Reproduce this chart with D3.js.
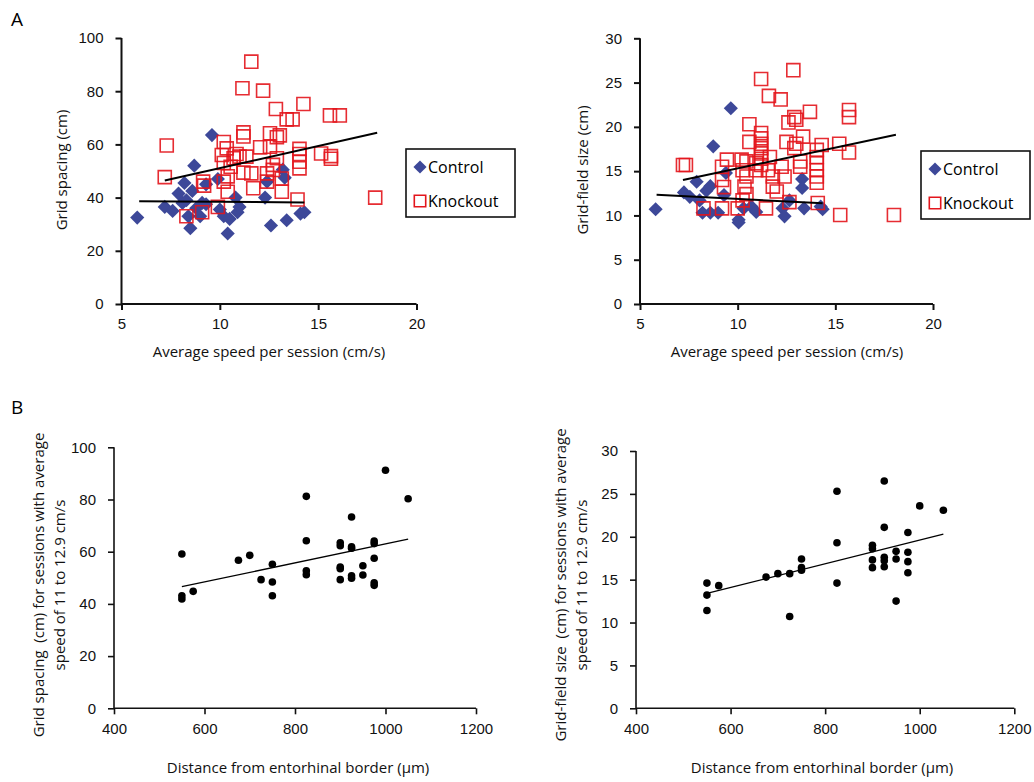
<!DOCTYPE html>
<html>
<head>
<meta charset="utf-8">
<script src="https://cdn.jsdelivr.net/npm/d3@7"></script>
<style>
  body { margin: 0; background: #fff; }
  svg { display: block; font-family: "Open Sans", "Noto Sans", sans-serif; }
  .tick text { font-size: 15px; fill: #111; }
  .axis path, .axis line { stroke: #111; }
</style>
</head>
<body>
<svg id="fig" width="1034" height="782"></svg>
<script>
// Panel A, left: average running speed (cm/s) vs grid spacing (cm)
const controlSpacing = [
  [5.8,32.5],[7.2,36.5],[7.6,35],[7.9,41.5],[8.1,38],[8.2,45.5],[8.3,39],[8.4,33],[8.5,28.5],
  [8.6,42.5],[8.7,52],[8.8,36],[9.0,33],[9.1,38],[9.3,45],[9.3,37.5],[9.6,63.5],[9.9,47],
  [10.0,35.5],[10.2,33],[10.4,26.5],[10.5,32],[10.8,40],[10.9,34.5],[11.0,36.5],[12.3,40],
  [12.4,46],[12.6,29.5],[13.2,50.5],[13.3,47.5],[13.4,31.5],[14.1,34],[14.3,34.5]
];
const knockoutSpacing = [
  [7.3,59.6],[7.2,47.7],[8.3,33],[9.1,34.5],[9.15,46],[9.2,44.5],[9.9,36.5],[10.1,56],[10.2,60.9],
  [10.2,46],[10.2,53],[10.35,58.5],[10.4,42.2],[10.4,48],[10.55,51.6],[10.7,54.8],[10.85,56.4],
  [11.0,55.4],[11.15,81.1],[11.2,64.5],[11.2,63],[11.2,49.4],[11.35,55.4],[11.6,91.1],[11.6,49.1],
  [11.7,43.5],[12.05,58.9],[12.2,80.2],[12.4,46],[12.4,49.1],[12.55,64.2],[12.55,59.1],[12.7,50.4],
  [12.7,52.3],[12.85,73.3],[12.9,62.7],[12.9,54.8],[13.05,63.4],[13.15,47.2],[13.15,42.2],
  [13.4,69.4],[13.7,69.4],[13.95,39.3],[14.05,58.3],[14.05,56.4],[14.05,53.5],[14.05,51],
  [14.25,75.2],[15.15,56.6],[15.6,70.9],[15.65,55.6],[15.65,54.6],[16.1,70.9],[17.9,40]
];
const controlSpacingFit = [[5.9,38.6],[14.3,38.2]];
const knockoutSpacingFit = [[7.2,46.4],[18.0,64.4]];

// Panel A, right: average running speed (cm/s) vs grid-field size (cm)
const controlField = [
  [5.8,10.7],[7.25,12.6],[7.55,12.1],[7.9,13.8],[8.05,11.7],[8.2,10.3],[8.4,12.8],[8.6,10.3],
  [8.6,13.3],[8.75,17.8],[9.0,10.3],[9.3,12.3],[9.4,14.8],[9.65,22.1],[10.05,9.2],[10.05,9.5],
  [10.3,10.8],[10.7,11.0],[10.95,10.4],[12.3,10.8],[12.4,9.9],[12.65,11.7],[13.3,14.1],[13.3,13.1],
  [13.4,10.8],[14.25,11.0],[14.35,10.7]
];
const knockoutField = [
  [7.2,15.7],[7.35,15.7],[8.25,10.8],[9.2,15.5],[9.2,14.0],[9.3,13.2],[9.2,10.8],[9.45,16.3],
  [10.0,10.8],[10.2,16.3],[10.25,15.1],[10.25,11.7],[10.35,13.25],[10.45,16.1],[10.45,14.4],
  [10.45,12.4],[10.6,20.3],[10.6,18.3],[10.95,15.9],[10.95,15.1],[11.2,25.4],[11.2,19.3],
  [11.2,18.7],[11.2,18.1],[11.2,17.6],[11.2,17.0],[11.2,16.4],[11.2,15.7],[11.45,10.8],
  [11.55,15.1],[11.6,23.5],[11.65,16.6],[11.8,14.4],[11.8,13.25],[12.0,12.7],[12.2,23.1],
  [12.25,15.5],[12.4,14.4],[12.5,18.3],[12.6,20.5],[12.65,11.5],[12.85,26.4],[12.9,21.1],
  [12.9,17.6],[13.0,20.8],[13.0,18.1],[13.2,16.1],[13.2,15.5],[13.35,18.9],[13.7,21.7],
  [14.05,17.4],[14.05,16.6],[14.05,15.9],[14.05,15.1],[14.05,14.4],[14.05,13.7],[14.1,11.4],
  [14.3,17.95],[15.2,18.1],[15.25,10.05],[15.7,21.9],[15.7,21.1],[15.7,17.1],[18.0,10.05]
];
const controlFieldFit = [[5.85,12.34],[14.35,11.37]];
const knockoutFieldFit = [[7.2,14.0],[18.1,19.1]];

// Panel B: distance from entorhinal border (µm), sessions at 11–12.9 cm/s
const distSpacing = [
  [550,59.1],[550,43.1],[550,41.9],[575,44.8],[675,56.7],[700,58.6],[725,49.3],[750,55.2],
  [750,48.4],[750,43.1],[825,81.2],[825,64.2],[825,52.7],[825,51.2],[900,63.4],[900,62.3],
  [900,54.1],[900,53.5],[900,49.3],[925,73.3],[925,61.9],[925,61.3],[925,50.8],[925,49.8],
  [950,54.6],[950,51.1],[975,64.1],[975,63.1],[975,57.5],[975,48.1],[975,47.1],[1000,91.2],
  [1050,80.3]
];
const distField = [
  [550,14.6],[550,13.2],[550,11.4],[575,14.3],[675,15.3],[700,15.7],[725,15.7],[725,10.7],
  [750,17.4],[750,16.4],[750,16.1],[825,25.3],[825,19.3],[825,14.6],[900,19.0],[900,18.6],
  [900,17.3],[900,16.4],[925,26.5],[925,21.1],[925,17.6],[925,17.2],[925,16.5],[950,18.3],
  [950,17.4],[950,12.5],[975,20.5],[975,18.2],[975,17.1],[975,15.8],[1000,23.6],[1050,23.1]
];
const distSpacingFit = [[550,46.6],[1050,64.8]];
const distFieldFit = [[550,13.4],[1050,20.3]];

// Axis ticks
const speedTicks = [5, 10, 15, 20];
const spacingTicks = [0, 20, 40, 60, 80, 100];
const fieldTicks = [0, 5, 10, 15, 20, 25, 30];
const distTicks = [400, 600, 800, 1000, 1200];

const BLUE = "#3D4899";
const RED = "#E3151C";
const svg = d3.select("#fig");

function drawAxes(x, y, xTicks, yTicks, width) {
  const g = svg.append("g");
  const xa = g.append("g").attr("class", "axis")
    .attr("transform", `translate(0,${y.range()[0]})`)
    .call(d3.axisBottom(x).tickValues(xTicks).tickSize(6).tickPadding(8).tickFormat(d3.format("d")));
  const ya = g.append("g").attr("class", "axis")
    .attr("transform", `translate(${x.range()[0]},0)`)
    .call(d3.axisLeft(y).tickValues(yTicks).tickSize(6).tickPadding(12).tickFormat(d3.format("d")));
  [xa, ya].forEach(a => a.selectAll(".tick line").attr("stroke-width", width));
  xa.select(".domain").remove();
  ya.select(".domain").remove();
  // solid axis lines spanning the full range
  g.append("line").attr("x1", x.range()[0]).attr("x2", x.range()[1])
    .attr("y1", y.range()[0]).attr("y2", y.range()[0])
    .attr("stroke", "#111").attr("stroke-width", width);
  g.append("line").attr("x1", x.range()[0]).attr("x2", x.range()[0])
    .attr("y1", y.range()[0]).attr("y2", y.range()[1])
    .attr("stroke", "#111").attr("stroke-width", width);
  xa.selectAll(".tick text").attr("dy", "0.75em");
}

function fitLine(x, y, pts, w) {
  svg.append("path")
    .datum(pts)
    .attr("d", d3.line().x(d => x(d[0])).y(d => y(d[1])))
    .attr("fill", "none").attr("stroke", "#000").attr("stroke-width", w);
}

const diamond = d3.symbol().type(d3.symbolDiamond2).size(128);
const square = d3.symbol().type(d3.symbolSquare).size(170);

function scatterAB(x, y, ctrl, ko) {
  svg.append("g").selectAll("path").data(ctrl).join("path")
    .attr("transform", d => `translate(${x(d[0])},${y(d[1])})`)
    .attr("d", diamond).attr("fill", BLUE);
  svg.append("g").selectAll("path").data(ko).join("path")
    .attr("transform", d => `translate(${x(d[0])},${y(d[1])})`)
    .attr("d", square).attr("fill", "none").attr("stroke", RED)
    .attr("stroke-width", 1.6).attr("stroke-opacity", 0.9);
}

function legend(x0, y0) {
  const g = svg.append("g").attr("transform", `translate(${x0},${y0})`);
  g.append("rect").attr("width", 109).attr("height", 68)
    .attr("fill", "#fff").attr("stroke", "#111").attr("stroke-width", 1.6);
  g.append("path").attr("transform", "translate(14,18)")
    .attr("d", d3.symbol().type(d3.symbolDiamond2).size(110)).attr("fill", BLUE);
  g.append("path").attr("transform", "translate(14,52)")
    .attr("d", d3.symbol().type(d3.symbolSquare).size(130))
    .attr("fill", "none").attr("stroke", RED).attr("stroke-width", 1.6);
  g.append("text").attr("x", 22).attr("y", 24).attr("font-size", 16).text("Control");
  g.append("text").attr("x", 22).attr("y", 58).attr("font-size", 16).text("Knockout");
}

function yLabel(cx, cy, lines, lh) {
  const t = svg.append("text")
    .attr("transform", `translate(${cx},${cy}) rotate(-90)`)
    .attr("text-anchor", "middle").attr("font-size", 15).attr("fill", "#111");
  lines.forEach((s, i) => t.append("tspan").attr("x", 0)
    .attr("dy", i === 0 ? `${-(lines.length - 1) * lh / 2 + 5}` : lh)
    .attr("xml:space", "preserve").text(s));
}

function xLabel(cx, cy, s) {
  svg.append("text").attr("x", cx).attr("y", cy).attr("text-anchor", "middle")
    .attr("font-size", 15).attr("fill", "#111").text(s);
}

// ---- Panel A, left
{
  const x = d3.scaleLinear().domain([5, 20]).range([121.5, 416.5]);
  const y = d3.scaleLinear().domain([0, 100]).range([304, 38]);
  drawAxes(x, y, speedTicks, spacingTicks, 2);
  scatterAB(x, y, controlSpacing, knockoutSpacing);
  fitLine(x, y, controlSpacingFit, 2);
  fitLine(x, y, knockoutSpacingFit, 2);
  legend(406, 149);
  yLabel(62, 170, ["Grid spacing (cm)"], 0);
  xLabel(269, 357, "Average speed per session (cm/s)");
}

// ---- Panel A, right
{
  const x = d3.scaleLinear().domain([5, 20]).range([640, 933]);
  const y = d3.scaleLinear().domain([0, 30]).range([304, 38.3]);
  drawAxes(x, y, speedTicks, fieldTicks, 2);
  scatterAB(x, y, controlField, knockoutField);
  fitLine(x, y, controlFieldFit, 2);
  fitLine(x, y, knockoutFieldFit, 2);
  legend(921, 151);
  yLabel(583, 170, ["Grid-field size (cm)"], 0);
  xLabel(787, 357, "Average speed per session (cm/s)");
}

// ---- Panel B, left
{
  const x = d3.scaleLinear().domain([400, 1200]).range([114, 476]);
  const y = d3.scaleLinear().domain([0, 100]).range([708.3, 447.3]);
  drawAxes(x, y, distTicks, spacingTicks, 1.6);
  svg.append("g").selectAll("circle").data(distSpacing).join("circle")
    .attr("cx", d => x(d[0])).attr("cy", d => y(d[1])).attr("r", 3.8).attr("fill", "#000");
  fitLine(x, y, distSpacingFit, 1.3);
  yLabel(49, 585, ["Grid spacing  (cm) for sessions with average", "speed of 11 to 12.9 cm/s"], 21);
  xLabel(298, 773, "Distance from entorhinal border (\u00b5m)");
}

// ---- Panel B, right
{
  const x = d3.scaleLinear().domain([400, 1200]).range([636, 1014.3]);
  const y = d3.scaleLinear().domain([0, 30]).range([708.3, 451]);
  drawAxes(x, y, distTicks, fieldTicks, 1.6);
  svg.append("g").selectAll("circle").data(distField).join("circle")
    .attr("cx", d => x(d[0])).attr("cy", d => y(d[1])).attr("r", 3.8).attr("fill", "#000");
  fitLine(x, y, distFieldFit, 1.3);
  yLabel(571, 585, ["Grid-field size  (cm) for sessions with average", "speed of 11 to 12.9 cm/s"], 21);
  xLabel(822, 773, "Distance from entorhinal border (\u00b5m)");
}

// Panel letters
svg.append("text").attr("x", 11).attr("y", 26).attr("font-size", 19).text("A");
svg.append("text").attr("x", 11).attr("y", 414).attr("font-size", 19).text("B");
</script>
</body>
</html>
